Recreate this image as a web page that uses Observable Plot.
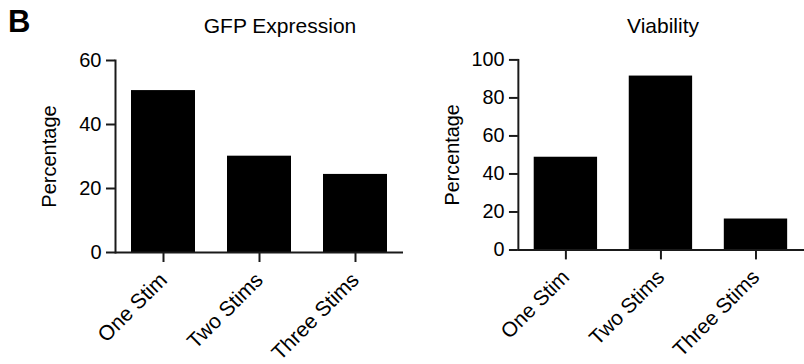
<!DOCTYPE html>
<html>
<head>
<meta charset="utf-8">
<script src="https://cdn.jsdelivr.net/npm/d3@7"></script>
<script src="https://cdn.jsdelivr.net/npm/@observablehq/plot@0.6"></script>
<style>
  html, body { margin: 0; padding: 0; background: #fff; overflow: hidden; }
  #wrap { position: relative; width: 804px; height: 364px; overflow: hidden; font-family: "Liberation Sans", Arial, sans-serif; color: #000; }
  .panel { position: absolute; top: 0; }
  .title { position: absolute; font-size: 21px; white-space: nowrap; transform: translateX(-50%); line-height: 1; }
  #letter { position: absolute; left: 8px; top: 6px; font-size: 31px; font-weight: bold; line-height: 1; }
</style>
</head>
<body>
<div id="wrap">
  <div id="letter">B</div>
  <div class="title" style="left:280px; top:15px;">GFP Expression</div>
  <div class="title" style="left:663px; top:15px;">Viability</div>
  <div class="panel" id="p1" style="left:0px;"></div>
  <div class="panel" id="p2" style="left:404px;"></div>
</div>
<script>
const categories = ["One Stim", "Two Stims", "Three Stims"];
const gfpValues = [50.6, 30.1, 24.4];
const viabilityValues = [48.8, 91.5, 16.3];
const gfpTicks = [0, 20, 40, 60];
const viabilityTicks = [0, 20, 40, 60, 80, 100];

function panel(values, yMax, yTicks, width, marginRight) {
  const data = categories.map((c, i) => ({cat: c, value: values[i]}));
  return Plot.plot({
    width: width,
    height: 364,
    marginLeft: 115,
    marginRight: marginRight,
    marginTop: 60,
    marginBottom: 112,
    style: {fontFamily: "Liberation Sans, Arial, sans-serif", fontSize: "20px", color: "#000", background: "transparent", overflow: "visible"},
    x: {domain: categories, paddingInner: 0.33, paddingOuter: 0.165},
    y: {domain: [0, yMax]},
    marks: [
      Plot.barY(data, {x: "cat", y: "value", fill: "#000"}),
      Plot.frame({anchor: "left", stroke: "#1a1a1a", strokeWidth: 2}),
      Plot.ruleY([0], {stroke: "#1a1a1a", strokeWidth: 2}),
      Plot.axisY({ticks: yTicks, tickSize: 9, tickPadding: 5, fontSize: 20, strokeWidth: 2, stroke: "#1a1a1a", label: "Percentage", labelAnchor: "center", labelOffset: 74, labelArrow: "none"}),
      Plot.axisX({tickSize: 10, tickPadding: 14, tickRotate: -45, fontSize: 21, strokeWidth: 2, stroke: "#1a1a1a", label: null})
    ]
  });
}

document.getElementById("p1").appendChild(panel(gfpValues, 60, gfpTicks, 404, 1));
document.getElementById("p2").appendChild(panel(viabilityValues, 100, viabilityTicks, 404, 0));
</script>
</body>
</html>
